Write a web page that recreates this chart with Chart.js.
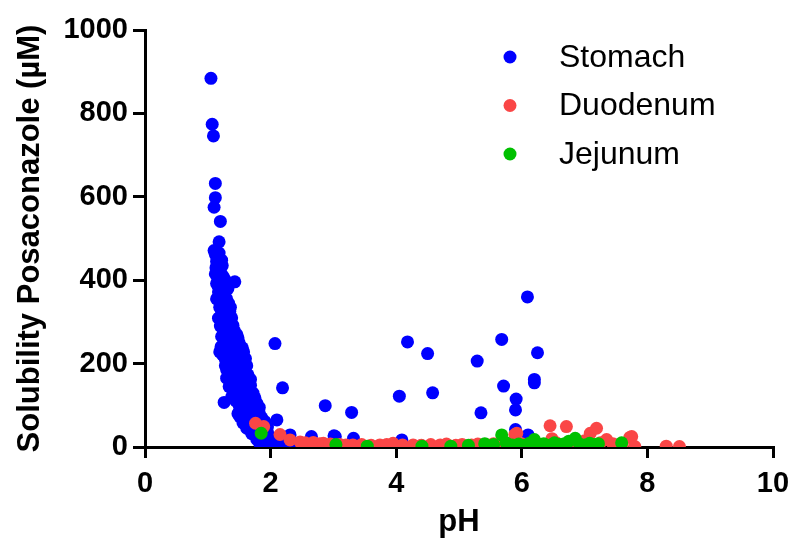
<!DOCTYPE html>
<html>
<head>
<meta charset="utf-8">
<script src="https://cdn.jsdelivr.net/npm/chart.js@4"></script>
<style>
  html, body { margin: 0; padding: 0; background: #fff; }
  #wrap { width: 794px; height: 545px; }
</style>
</head>
<body>
<div id="wrap"><canvas id="solubility" width="794" height="545"></canvas></div>
<script>
// pH vs solubility (uM)
const stomach = [
  [1.05, 884], [1.07, 774], [1.09, 746], [1.12, 632], [1.12, 598], [1.10, 575],
  [1.20, 541], [1.18, 492], [1.10, 471], [1.43, 396], [2.07, 248], [2.19, 142],
  [1.26, 107], [2.87, 99], [2.10, 65], [3.29, 83], [6.09, 360], [4.18, 252],
  [5.68, 258], [4.50, 224], [6.25, 226], [5.29, 206], [6.20, 162], [6.20, 154],
  [5.71, 146], [4.58, 130], [4.05, 122], [5.91, 115], [5.90, 89], [5.35, 82],
  [5.90, 42], [3.01, 27], [6.10, 29], [2.31, 29], [2.65, 25], [3.32, 21],
  [4.09, 17], [3.03, 25],
  [1.15, 455], [1.19, 440], [1.22, 448], [1.13, 430], [1.20, 420], [1.24, 410],
  [1.16, 400], [1.27, 402], [1.17, 385], [1.22, 378], [1.28, 390], [1.17, 372],
  [1.25, 365], [1.30, 355], [1.20, 350], [1.27, 340], [1.33, 345], [1.30, 336],
  [1.22, 325], [1.35, 325], [1.17, 309], [1.28, 315], [1.38, 310], [1.24, 300],
  [1.33, 300], [1.30, 290], [1.40, 292], [1.35, 280], [1.25, 280], [1.43, 268],
  [1.27, 268], [1.46, 270], [1.32, 260], [1.40, 255], [1.50, 250], [1.25, 248],
  [1.35, 242], [1.45, 240], [1.55, 238], [1.19, 228], [1.30, 230], [1.40, 225],
  [1.57, 228], [1.48, 218], [1.35, 215], [1.28, 210], [1.44, 205], [1.55, 208],
  [1.38, 200], [1.50, 195], [1.30, 185], [1.42, 188], [1.58, 185], [1.64, 173],
  [1.35, 175], [1.48, 170], [1.40, 160], [1.55, 160], [1.62, 155], [1.45, 150],
  [1.34, 145], [1.52, 145], [1.68, 148], [1.41, 137], [1.58, 135], [1.72, 129],
  [1.48, 128], [1.65, 120], [1.38, 120], [1.55, 115], [1.78, 105], [1.45, 110],
  [1.62, 108], [1.70, 100], [1.51, 89], [1.60, 92], [1.75, 90], [1.48, 80],
  [1.66, 80], [1.82, 82], [1.51, 73], [1.60, 68], [1.72, 70], [1.91, 61],
  [1.56, 58], [1.68, 55], [1.80, 52], [1.62, 45], [1.75, 42], [1.88, 40],
  [1.70, 32], [1.83, 25], [1.92, 28], [1.78, 18], [1.99, 13], [1.88, 12],
  [2.05, 8], [1.95, 5], [2.10, 3], [2.20, 6], [2.35, 4], [2.50, 3], [2.60, 5],
  [2.75, 4], [2.90, 3], [3.10, 4], [3.40, 3], [3.80, 2], [4.40, 3], [5.00, 2],
  [5.50, 3], [6.00, 2], [6.40, 3], [6.80, 2], [7.10, 3],
  [1.12, 462], [1.18, 465], [1.14, 445], [1.23, 435], [1.12, 415], [1.19, 405],
  [1.26, 395], [1.14, 392], [1.21, 360], [1.14, 355], [1.27, 372], [1.32, 380],
  [1.19, 335], [1.26, 330], [1.36, 335], [1.21, 310], [1.30, 320], [1.20, 290],
  [1.37, 295], [1.42, 280], [1.30, 275], [1.22, 265], [1.38, 262], [1.48, 262],
  [1.28, 252], [1.44, 248], [1.21, 240], [1.52, 232], [1.24, 220], [1.42, 215],
  [1.53, 220], [1.33, 205], [1.60, 212], [1.28, 195], [1.45, 192], [1.62, 195],
  [1.36, 188], [1.52, 178], [1.30, 165], [1.43, 175], [1.60, 170], [1.50, 158],
  [1.68, 162], [1.38, 155], [1.58, 148], [1.44, 140], [1.64, 138], [1.52, 132],
  [1.68, 132], [1.75, 118], [1.42, 125], [1.60, 122], [1.72, 112], [1.50, 100],
  [1.58, 102], [1.82, 95], [1.68, 90], [1.55, 85], [1.78, 78], [1.62, 78],
  [1.86, 70], [1.70, 62], [1.85, 55], [1.95, 48], [1.78, 45], [1.95, 35],
  [1.68, 40], [2.02, 22], [1.90, 18], [2.12, 15], [1.83, 8], [2.25, 10],
  [2.40, 8], [2.55, 6], [2.70, 8], [2.80, 5]
];
const duodenum = [
  [1.76, 57], [1.89, 49], [2.15, 30], [2.31, 17], [2.47, 12], [2.55, 10],
  [2.68, 11], [2.78, 8], [2.84, 9], [2.95, 7], [3.10, 6], [3.20, 5], [3.31, 5],
  [3.45, 6], [3.60, 4], [3.74, 5], [3.85, 6], [3.95, 9], [4.10, 5], [4.27, 5],
  [4.40, 4], [4.55, 6], [4.70, 5], [4.80, 7], [4.95, 4], [5.05, 6], [5.20, 5],
  [5.30, 7], [5.45, 5], [5.55, 8], [5.65, 6], [5.80, 7], [5.89, 30], [5.92, 33],
  [6.00, 8], [6.10, 5], [6.20, 9], [6.30, 6], [6.45, 51], [6.48, 20], [6.55, 10],
  [6.71, 49], [6.80, 12], [6.90, 8], [7.00, 15], [7.09, 33], [7.19, 45],
  [7.25, 10], [7.35, 18], [7.45, 8], [7.60, 5], [7.72, 23], [7.75, 25],
  [7.80, 1], [8.30, 2], [8.51, 1]
];
const jejunum = [
  [1.85, 33], [3.04, 6], [3.54, 2], [4.41, 2], [4.87, 2], [5.15, 4], [5.41, 8],
  [5.55, 6], [5.68, 29], [5.75, 10], [5.85, 5], [5.95, 7], [6.05, 4], [6.12, 9],
  [6.20, 18], [6.28, 5], [6.35, 8], [6.45, 4], [6.52, 10], [6.60, 6], [6.68, 8],
  [6.75, 14], [6.85, 21], [6.92, 7], [7.00, 5], [7.08, 9], [7.15, 6], [7.22, 8],
  [7.59, 10]
];
const seriesNames = ["Stomach", "Duodenum", "Jejunum"];
const seriesColors = ["#0000ff", "#fa4646", "#00c000"];
const xTicks = [0, 2, 4, 6, 8, 10];
const yTicks = [0, 200, 400, 600, 800, 1000];

const toPts = (arr) => arr.map((p) => ({ x: p[0], y: p[1] }));

// hand drawn legend, GraphPad style
const sideLegend = {
  id: "sideLegend",
  afterDraw(chart) {
    const c = chart.ctx;
    c.save();
    c.font = "32px 'Liberation Sans', Arial, sans-serif";
    c.textBaseline = "middle";
    chart.data.datasets.forEach((ds, i) => {
      const y = 57 + i * 48.5;
      c.fillStyle = ds.backgroundColor;
      c.beginPath();
      c.arc(510, y, 6.5, 0, Math.PI * 2);
      c.fill();
      c.fillStyle = "#000";
      c.fillText(ds.label, 559, y + 1);
    });
    c.restore();
  },
};

const boldFont = (size) => ({ family: "'Liberation Sans', Arial, sans-serif", size: size, weight: "bold" });

const datasets = [stomach, duodenum, jejunum].map((d, i) => ({
  label: seriesNames[i],
  data: toPts(d),
  backgroundColor: seriesColors[i],
  borderWidth: 0,
  pointRadius: 6.5,
  pointHoverRadius: 6.5,
  order: 3 - i,
}));

new Chart(document.getElementById("solubility"), {
  type: "scatter",
  data: { datasets: datasets },
  options: {
    responsive: false,
    animation: false,
    events: [],
    layout: { padding: { top: 30, right: 21, left: 0, bottom: 0 } },
    plugins: { legend: { display: false }, tooltip: { enabled: false } },
    scales: {
      x: {
        type: "linear",
        min: 0,
        max: 10,
        afterBuildTicks: (s) => { s.ticks = xTicks.map((v) => ({ value: v })); },
        afterFit: (s) => { s.height = 98; s.paddingLeft = 0; s.paddingRight = 0; },
        border: { display: true, color: "#000", width: 3 },
        grid: { drawOnChartArea: false, drawTicks: true, tickLength: 11, lineWidth: 3, color: "#000" },
        ticks: { color: "#000", font: boldFont(29), padding: 9, maxRotation: 0, callback: (v) => String(v) },
        title: { display: true, text: "pH", color: "#000", font: boldFont(31), padding: { top: 8 } },
      },
      y: {
        type: "linear",
        min: 0,
        max: 1000,
        afterBuildTicks: (s) => { s.ticks = yTicks.map((v) => ({ value: v })); },
        afterFit: (s) => { s.width = 145; s.paddingTop = 0; s.paddingBottom = 0; },
        border: { display: true, color: "#000", width: 3 },
        grid: { drawOnChartArea: false, drawTicks: true, tickLength: 12, lineWidth: 3, color: "#000" },
        ticks: { color: "#000", font: boldFont(29), padding: 5, callback: (v) => String(v) },
        title: { display: true, text: "Solubility Posaconazole (µM)", color: "#000", font: boldFont(31), padding: { top: 12, bottom: 0 } },
      },
    },
  },
  plugins: [sideLegend],
});
</script>
</body>
</html>
